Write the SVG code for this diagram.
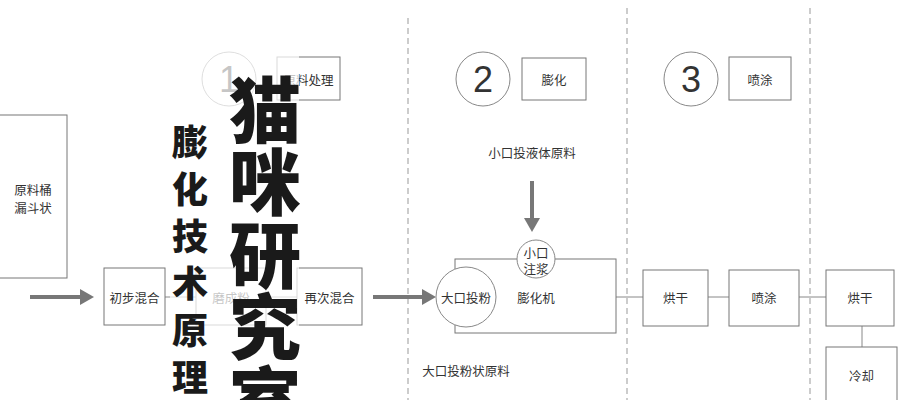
<svg xmlns="http://www.w3.org/2000/svg" width="900" height="400" viewBox="0 0 900 400">
<style>
.box{fill:#fff;stroke:#777;stroke-width:1}
.circ{fill:#fff;stroke:#888;stroke-width:1}
.lbl{font-family:"Noto Sans CJK SC","Noto Sans",sans-serif;font-size:12.5px;fill:#333;text-anchor:middle;dominant-baseline:central}
.num{font-family:"Liberation Sans",Arial,sans-serif;font-size:36px;fill:#333;text-anchor:middle;dominant-baseline:central}
.dash{stroke:#999;stroke-width:1;stroke-dasharray:6,4;fill:none}
.conn{stroke:#888;stroke-width:1;fill:none}
.arrow{stroke:#777;stroke-width:4;fill:none}
.head{fill:#777}
.big{font-family:"Noto Sans CJK SC",sans-serif;font-weight:900;fill:#1a1a1a;text-anchor:middle;dominant-baseline:central}
</style>
<rect width="900" height="400" fill="#fff"/>
<g id="dividers">
<line class="dash" x1="408" y1="18" x2="408" y2="400"/>
<line class="dash" x1="627" y1="8" x2="627" y2="400"/>
<line class="dash" x1="810" y1="8" x2="810" y2="400"/>
</g>
<g id="connectors">
<line class="conn" x1="165" y1="297" x2="196" y2="297"/>
<line class="conn" x1="266" y1="297" x2="297" y2="297"/>
<line class="conn" x1="616" y1="297" x2="643" y2="297"/>
<line class="conn" x1="708" y1="297" x2="729" y2="297"/>
<line class="conn" x1="799" y1="297" x2="826" y2="297"/>
<line class="conn" x1="862" y1="326" x2="862" y2="347"/>
<line class="arrow" x1="30" y1="297" x2="82" y2="297"/>
<polygon class="head" points="80,289 94,297 80,305"/>
<line class="arrow" x1="373" y1="297" x2="424" y2="297"/>
<polygon class="head" points="422,289 436,297 422,305"/>
<line class="arrow" x1="532" y1="181" x2="532" y2="220"/>
<polygon class="head" points="524,218 540,218 532,232"/>
</g>
<g id="n-hopper"><rect class="box" x="-1" y="115" width="68" height="163"/><text class="lbl" x="33" y="189">原料桶</text><text class="lbl" x="33" y="207">漏斗状</text></g>
<g id="n-mix1"><rect class="box" x="104" y="268" width="61" height="57"/><text class="lbl" x="134.5" y="297">初步混合</text></g>
<g id="n-grind"><rect class="box" x="196" y="268" width="70" height="57"/><text class="lbl" x="231" y="297">磨成粉</text></g>
<g id="n-mix2"><rect class="box" x="297" y="268" width="65" height="57"/><text class="lbl" x="329.5" y="297">再次混合</text></g>
<g id="n-step1"><circle class="circ" cx="229" cy="79" r="27"/><text class="num" x="229" y="79">1</text></g>
<g id="n-step1-label"><rect class="box" x="277" y="57" width="63" height="43"/><text class="lbl" x="308.5" y="79">原料处理</text></g>
<g id="n-step2"><circle class="circ" cx="483" cy="79" r="27"/><text class="num" x="483" y="79">2</text></g>
<g id="n-step2-label"><rect class="box" x="522" y="58" width="64" height="42"/><text class="lbl" x="554" y="79">膨化</text></g>
<g id="n-step3"><circle class="circ" cx="691" cy="79" r="27"/><text class="num" x="691" y="79">3</text></g>
<g id="n-step3-label"><rect class="box" x="729" y="57" width="62" height="43"/><text class="lbl" x="760" y="79">喷涂</text></g>
<g id="n-liquid-label"><text class="lbl" x="532" y="152">小口投液体原料</text></g>
<g id="n-extruder"><rect class="box" x="455" y="259" width="161" height="74"/><text class="lbl" x="536" y="297">膨化机</text></g>
<g id="n-bigport"><circle class="circ" cx="466" cy="297" r="30"/><text class="lbl" x="466" y="297">大口投粉</text></g>
<g id="n-smallport"><circle class="circ" cx="536" cy="259" r="19"/><text class="lbl" x="536" y="252">小口</text><text class="lbl" x="536" y="268">注浆</text></g>
<g id="n-powder-label"><text class="lbl" x="466" y="370">大口投粉状原料</text></g>
<g id="n-dry1"><rect class="box" x="643" y="270" width="65" height="56"/><text class="lbl" x="675.5" y="297">烘干</text></g>
<g id="n-spray"><rect class="box" x="729" y="270" width="70" height="56"/><text class="lbl" x="764" y="297">喷涂</text></g>
<g id="n-dry2"><rect class="box" x="826" y="270" width="68" height="56"/><text class="lbl" x="860" y="297">烘干</text></g>
<g id="n-cool"><rect class="box" x="826" y="347" width="71" height="60"/><text class="lbl" x="861.5" y="375">冷却</text></g>
<rect x="170" y="0" width="129" height="400" fill="#fff" fill-opacity="0.72"/>
<g id="watermark-sub" class="big" font-size="36">
<text x="190" y="140">膨</text><text x="190" y="187">化</text><text x="190" y="234">技</text><text x="190" y="281">术</text><text x="190" y="328">原</text><text x="190" y="375">理</text>
</g>
<g id="watermark" class="big" font-size="72">
<text x="265" y="105">猫</text><text x="265" y="177">咪</text><text x="265" y="250">研</text><text x="265" y="322">究</text><text x="265" y="395">室</text>
</g>
</svg>
